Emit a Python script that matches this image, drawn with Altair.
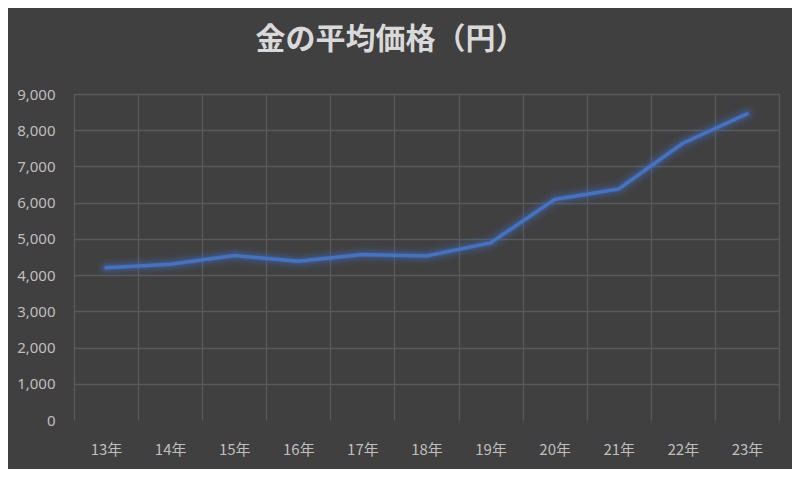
import altair as alt
import pandas as pd

years = ["13年", "14年", "15年", "16年", "17年", "18年", "19年", "20年", "21年", "22年", "23年"]
prices = [4200, 4300, 4540, 4380, 4570, 4530, 4890, 6090, 6380, 7640, 8450]

df = pd.DataFrame({"year": years, "price": prices})

LINE = "#4472C4"
BG = "#404040"
GRID = "#5a5a5a"
LABEL = "#bfbfbf"

x = alt.X("year:N", sort=None,
          scale=alt.Scale(type="band", paddingInner=0, paddingOuter=0),
          axis=alt.Axis(title=None, tickBand="extent", labelAngle=0, ticks=False, domain=False,
                        labelPadding=22, labelFontSize=15, labelColor=LABEL,
                        labelFont="Liberation Sans Narrow, Noto Sans CJK JP",
                        gridColor=GRID, gridWidth=1.3, grid=True))
y = alt.Y("price:Q",
          scale=alt.Scale(domain=[0, 9000], nice=False),
          axis=alt.Axis(title=None, values=list(range(0, 9001, 1000)), format=",.0f",
                        ticks=False, domain=False, labelPadding=19, labelFontSize=15,
                        labelColor=LABEL, labelFont="Noto Sans",
                        gridColor=alt.condition("datum.value == 0", alt.value("transparent"), alt.value(GRID)),
                        gridWidth=1.3))

base = alt.Chart(df)

glow_layers = []
for w, op in [(18, 0.07), (13, 0.1), (9, 0.14), (6, 0.2)]:
    glow_layers.append(base.mark_line(color=LINE, strokeWidth=w, opacity=op,
                                      strokeCap="round", strokeJoin="round").encode(x=x, y=y))
main = base.mark_line(color=LINE, strokeWidth=3.5, strokeCap="round", strokeJoin="round").encode(x=x, y=y)

chart = alt.layer(*glow_layers, main).properties(
    width=705, height=326,
    background=BG,
    padding={"left": 66, "top": 86, "right": 13, "bottom": 49},
    autosize=alt.AutoSizeParams(type="none"),
    title=alt.TitleParams("金の平均価格（円）", anchor="middle", fontSize=30, fontWeight="bold",
                          color="#d9d9d9", font="Noto Sans CJK JP", offset=32, dx=-36),
).configure_view(stroke=None)

chart.save("out.html", embed_options={"renderer": "svg", "actions": False})
